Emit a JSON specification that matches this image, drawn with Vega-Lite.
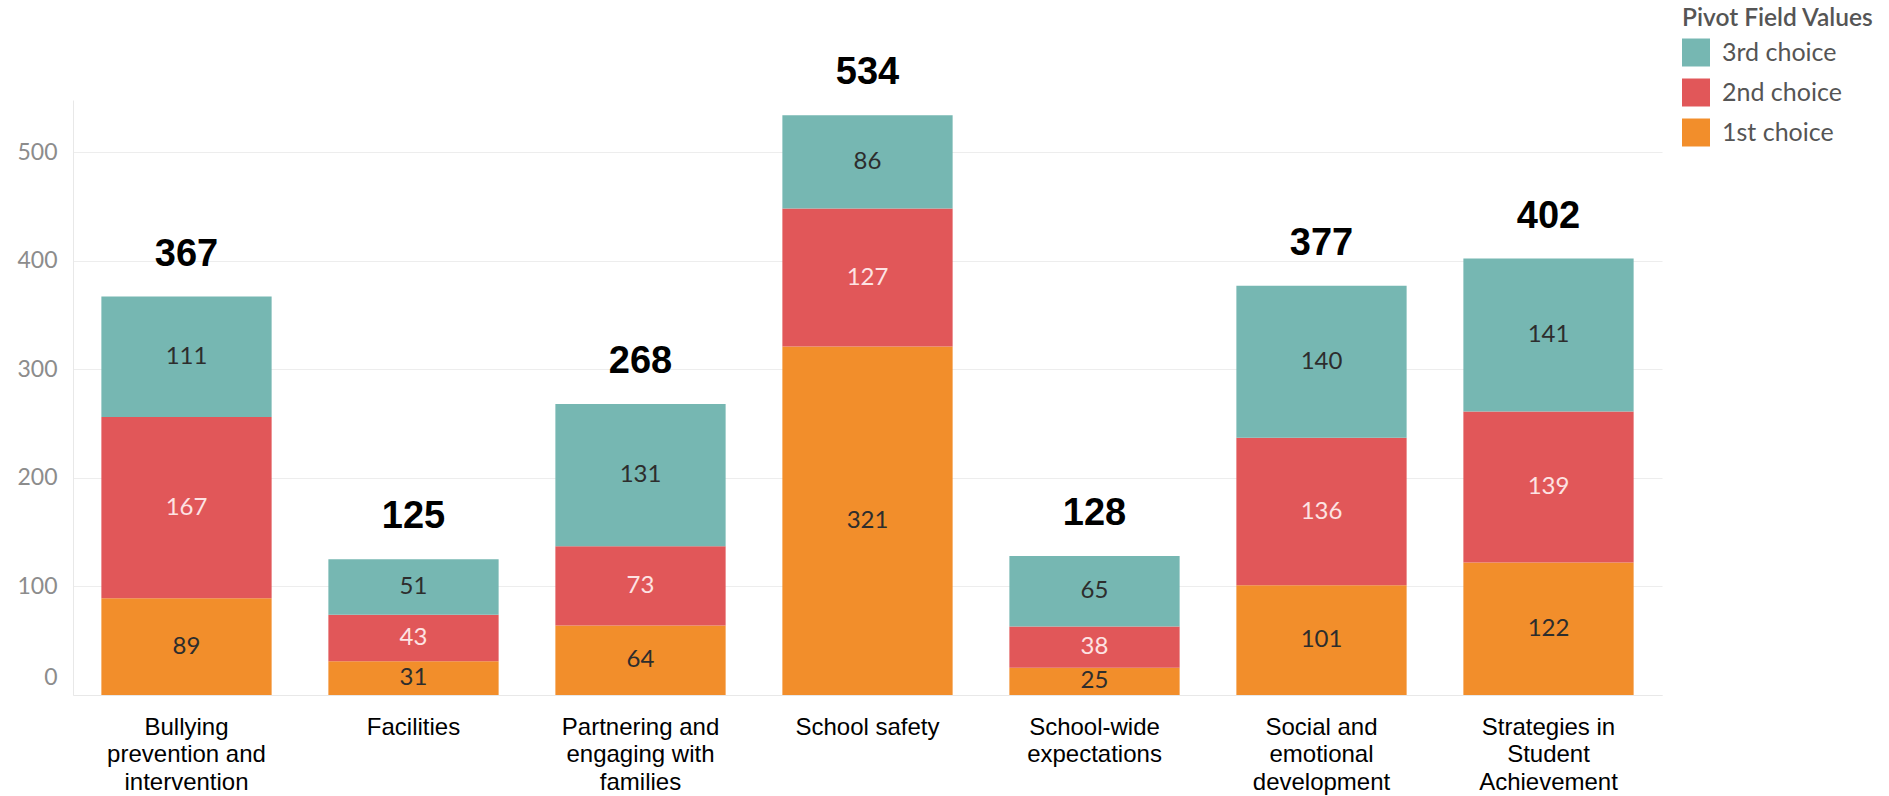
{
  "$schema": "https://vega.github.io/schema/vega-lite/v6.json",
  "width": 1589,
  "height": 595,
  "autosize": {"type": "none"},
  "padding": {"left": 73, "top": 100, "right": 227, "bottom": 101},
  "background": "white",
  "config": {"view": {"stroke": null}},
  "data": {
    "values": [
      {"category": "Bullying prevention and intervention", "choice": "1st choice", "count": 89},
      {"category": "Bullying prevention and intervention", "choice": "2nd choice", "count": 167},
      {"category": "Bullying prevention and intervention", "choice": "3rd choice", "count": 111},
      {"category": "Facilities", "choice": "1st choice", "count": 31},
      {"category": "Facilities", "choice": "2nd choice", "count": 43},
      {"category": "Facilities", "choice": "3rd choice", "count": 51},
      {"category": "Partnering and engaging with families", "choice": "1st choice", "count": 64},
      {"category": "Partnering and engaging with families", "choice": "2nd choice", "count": 73},
      {"category": "Partnering and engaging with families", "choice": "3rd choice", "count": 131},
      {"category": "School safety", "choice": "1st choice", "count": 321},
      {"category": "School safety", "choice": "2nd choice", "count": 127},
      {"category": "School safety", "choice": "3rd choice", "count": 86},
      {"category": "School-wide expectations", "choice": "1st choice", "count": 25},
      {"category": "School-wide expectations", "choice": "2nd choice", "count": 38},
      {"category": "School-wide expectations", "choice": "3rd choice", "count": 65},
      {"category": "Social and emotional development", "choice": "1st choice", "count": 101},
      {"category": "Social and emotional development", "choice": "2nd choice", "count": 136},
      {"category": "Social and emotional development", "choice": "3rd choice", "count": 140},
      {"category": "Strategies in Student Achievement", "choice": "1st choice", "count": 122},
      {"category": "Strategies in Student Achievement", "choice": "2nd choice", "count": 139},
      {"category": "Strategies in Student Achievement", "choice": "3rd choice", "count": 141}
    ]
  },
  "encoding": {
    "x": {
      "field": "category",
      "type": "nominal",
      "sort": null,
      "scale": {"paddingInner": 0.25, "paddingOuter": 0.125},
      "axis": {
        "title": null,
        "labelAngle": 0,
        "ticks": false,
        "domainColor": "#e8e8e8",
        "labelFont": "Liberation Sans",
        "labelFontSize": 24,
        "labelColor": "#000000",
        "labelLineHeight": 27.5,
        "labelPadding": 20,
        "labelLimit": 400,
        "labelExpr": "datum.value == 'Bullying prevention and intervention' ? ['Bullying','prevention and','intervention'] : datum.value == 'Partnering and engaging with families' ? ['Partnering and','engaging with','families'] : datum.value == 'School-wide expectations' ? ['School-wide','expectations'] : datum.value == 'Social and emotional development' ? ['Social and','emotional','development'] : datum.value == 'Strategies in Student Achievement' ? ['Strategies in','Student','Achievement'] : datum.label"
      }
    }
  },
  "layer": [
    {
      "mark": {"type": "bar"},
      "encoding": {
        "y": {
          "field": "count",
          "type": "quantitative",
          "stack": "zero",
          "scale": {"domain": [0, 548], "nice": false},
          "axis": {
            "title": null,
            "values": [0, 100, 200, 300, 400, 500],
            "ticks": false,
            "domainColor": "#e8e8e8",
            "gridColor": "#ededed",
            "labelFont": "Lato",
            "labelFontSize": 23,
            "labelColor": "#8c8c8c",
            "labelPadding": 16,
            "labelOffset": {"condition": {"test": "datum.value === 0", "value": -18}, "value": 0}
          }
        },
        "color": {
          "field": "choice",
          "type": "nominal",
          "scale": {
            "domain": ["3rd choice", "2nd choice", "1st choice"],
            "range": ["#76b7b2", "#e15759", "#f28e2b"]
          },
          "legend": {
            "orient": "none",
            "legendX": 1609,
            "legendY": -93,
            "title": "Pivot Field Values",
            "titleFont": "Lato",
            "titleFontSize": 24.5,
            "titleFontWeight": 600,
            "titleColor": "#555555",
            "titleLimit": 400,
            "titlePadding": 7,
            "labelFont": "Lato",
            "labelFontSize": 25,
            "labelColor": "#555555",
            "labelOffset": 12,
            "symbolType": "square",
            "symbolSize": 784,
            "symbolStrokeWidth": 0,
            "symbolOpacity": 1,
            "rowPadding": 12
          }
        },
        "order": {"field": "choice", "type": "nominal", "sort": "ascending"}
      }
    },
    {
      "mark": {"type": "text", "font": "Lato", "fontSize": 24, "baseline": "middle"},
      "encoding": {
        "y": {"field": "count", "type": "quantitative", "stack": "zero", "bandPosition": 0.5},
        "order": {"field": "choice", "type": "nominal", "sort": "ascending"},
        "text": {"field": "count", "type": "quantitative"},
        "color": {
          "condition": {"test": "datum.choice === '2nd choice'", "value": "#fde3e3"},
          "value": "#2d2d2d"
        }
      }
    },
    {
      "transform": [
        {"aggregate": [{"op": "sum", "field": "count", "as": "total"}], "groupby": ["category"]}
      ],
      "mark": {
        "type": "text",
        "font": "Liberation Sans",
        "fontWeight": "bold",
        "fontSize": 38,
        "baseline": "alphabetic",
        "dy": -31,
        "color": "#000000"
      },
      "encoding": {
        "y": {"field": "total", "type": "quantitative"},
        "text": {"field": "total", "type": "quantitative"}
      }
    }
  ]
}
